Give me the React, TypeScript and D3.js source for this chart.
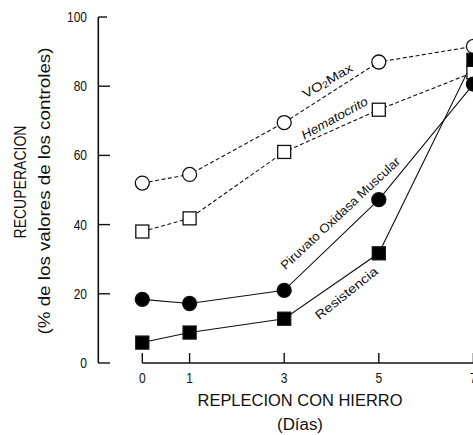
import React from "react";
import * as d3 from "d3";

const days = [0, 1, 3, 5, 7];
const xTicks = [0, 1, 3, 5, 7];
const yTicks = [0, 20, 40, 60, 80, 100];

const vo2max = [52, 54.5, 69.5, 87, 91.5];
const hematocrito = [38, 41.8, 61, 73.2, 84];
const piruvato = [18.4, 17.2, 21, 47.2, 80.6];
const resistencia = [5.9, 8.8, 12.8, 31.7, 87.6];

const W = 473;
const H = 435;
const FONT = "'Liberation Sans Narrow', 'Arial Narrow', 'Liberation Sans', Arial, sans-serif";

export default function App() {
  const x = d3.scaleLinear().domain([0, 7]).range([142.3, 473.4]);
  const y = d3.scaleLinear().domain([0, 100]).range([363, 17]);
  const line = d3
    .line<number>()
    .x((_, i) => x(days[i]))
    .y((v) => y(v));

  const series = [
    { values: vo2max, dashed: true, shape: "circle", filled: false },
    { values: hematocrito, dashed: true, shape: "square", filled: false },
    { values: piruvato, dashed: false, shape: "circle", filled: true },
    { values: resistencia, dashed: false, shape: "square", filled: true },
  ];

  const curveLabel = (
    text: React.ReactNode,
    cx: number,
    cy: number,
    angle: number,
    len: number,
    italic = false,
    size = 12.5
  ) => (
    <text
      x={0}
      y={0}
      transform={`translate(${cx},${cy}) rotate(${angle})`}
      textAnchor="middle"
      dominantBaseline="middle"
      fontFamily={FONT}
      fontSize={size}
      fontStyle={italic ? "italic" : "normal"}
      textLength={len}
      lengthAdjust="spacingAndGlyphs"
      fill="#111"
    >
      {text}
    </text>
  );

  const narrow = (x0: number, y0: number, anchor: string, label: string, size = 15) => (
    <text
      transform={`translate(${x0},${y0}) scale(0.8,1)`}
      textAnchor={anchor}
      dominantBaseline="central"
      fontFamily={FONT}
      fontSize={size}
      fill="#111"
    >
      {label}
    </text>
  );

  return (
    <svg
      width={W}
      height={H}
      style={{ position: "absolute", left: 0, top: 0, background: "#fff" }}
    >
      <rect width={W} height={H} fill="#fff" />

      {/* Y axis */}
      <line x1={98.3} x2={98.3} y1={y(100)} y2={y(0)} stroke="#111" strokeWidth={1.6} />
      {yTicks.map((t) => (
        <g key={t}>
          <line
            x1={98.3}
            x2={t === 100 ? 107 : 110}
            y1={y(t)}
            y2={y(t)}
            stroke="#111"
            strokeWidth={1.4}
          />
          {narrow(87, y(t), "end", String(t))}
        </g>
      ))}

      {/* X axis */}
      <line x1={x(0)} x2={W} y1={363} y2={363} stroke="#111" strokeWidth={1.6} />
      {xTicks.map((t) => (
        <g key={t}>
          <line x1={x(t)} x2={x(t)} y1={363} y2={353} stroke="#111" strokeWidth={1.4} />
          {narrow(x(t), 378.5, "middle", String(t))}
        </g>
      ))}

      {/* Axis titles */}
      <text
        x={300}
        y={400.5}
        textAnchor="middle"
        dominantBaseline="central"
        fontFamily={FONT}
        fontSize={17}
        textLength={205}
        lengthAdjust="spacingAndGlyphs"
        fill="#111"
      >
        REPLECION CON HIERRO
      </text>
      <text
        x={300}
        y={424.5}
        textAnchor="middle"
        dominantBaseline="central"
        fontFamily={FONT}
        fontSize={16}
        textLength={46}
        lengthAdjust="spacingAndGlyphs"
        fill="#111"
      >
        (Días)
      </text>
      <text
        transform={`translate(20.5,182) rotate(-90)`}
        textAnchor="middle"
        dominantBaseline="central"
        fontFamily={FONT}
        fontSize={17}
        textLength={113}
        lengthAdjust="spacingAndGlyphs"
        fill="#111"
      >
        RECUPERACION
      </text>
      <text
        transform={`translate(44,191) rotate(-90)`}
        textAnchor="middle"
        dominantBaseline="central"
        fontFamily={FONT}
        fontSize={17}
        textLength={287}
        lengthAdjust="spacingAndGlyphs"
        fill="#111"
      >
        (% de los valores de los controles)
      </text>

      {/* Series lines */}
      {series.map((s, i) => (
        <path
          key={`l${i}`}
          d={line(s.values) || ""}
          fill="none"
          stroke="#111"
          strokeWidth={1.1}
          strokeDasharray={s.dashed ? "4,2.5" : undefined}
        />
      ))}

      {/* Series markers */}
      {series.map((s, i) =>
        s.values.map((v, j) =>
          s.shape === "circle" ? (
            <circle
              key={`m${i}-${j}`}
              cx={x(days[j])}
              cy={y(v)}
              r={7}
              fill={s.filled ? "#000" : "#fff"}
              stroke="#111"
              strokeWidth={1.3}
            />
          ) : (
            <rect
              key={`m${i}-${j}`}
              x={x(days[j]) - 6.5}
              y={y(v) - 6.5}
              width={13}
              height={13}
              fill={s.filled ? "#000" : "#fff"}
              stroke="#111"
              strokeWidth={1.3}
            />
          )
        )
      )}

      {/* Curve labels */}
      {curveLabel(
        <>
          VO<tspan fontSize={9} dy={2}>2</tspan>
          <tspan dy={-2}>Max</tspan>
        </>,
        328,
        82,
        -30,
        56
      )}
      {curveLabel("Hematocrito", 335, 119, -29, 74, true)}
      {curveLabel("Piruvato Oxidasa Muscular", 341, 214, -43, 158)}
      {curveLabel("Resistencia", 347, 294, -38.5, 76)}
    </svg>
  );
}
